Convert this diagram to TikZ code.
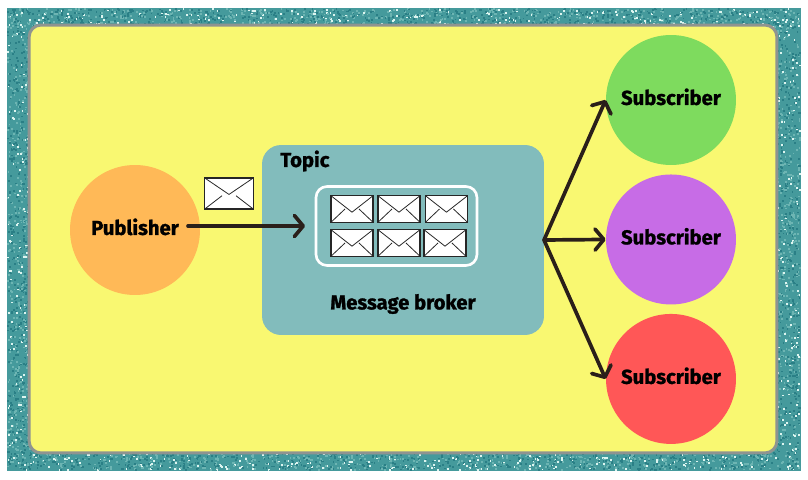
\documentclass[tikz,border=0pt]{standalone}
\usepackage{fontspec}
\setmainfont{Fira Sans}[BoldFont={Fira Sans Bold}, BoldFeatures={FakeBold=1.2}]
\usetikzlibrary{arrows.meta}
\definecolor{glitterbase}{HTML}{459A9C}
\definecolor{glitterdark}{HTML}{2A7F86}
\definecolor{glittermid}{HTML}{6DB5B3}
\definecolor{glitterlight}{HTML}{DDF5F0}
\definecolor{panelyellow}{HTML}{F9F871}
\definecolor{panelgrey}{HTML}{8F9490}
\definecolor{topicteal}{HTML}{82BCBC}
\definecolor{puborange}{HTML}{FFB957}
\definecolor{subgreen}{HTML}{7EDB5E}
\definecolor{subpurple}{HTML}{C76CE6}
\definecolor{subred}{HTML}{FF5757}
\definecolor{arrowdark}{HTML}{2A1F1A}
\begin{document}
\begin{tikzpicture}[x=0.02cm, y=-0.02cm, node distance=2.79cm,
  main/.style = {circle, minimum size=2.6cm, inner sep=0pt, text height=8.5pt, text depth=2.9pt, font=\bfseries\fontsize{11.5pt}{13pt}\selectfont},
  word/.style = {inner sep=0pt, font=\bfseries\fontsize{11.5pt}{13pt}\selectfont},
  mail/.style = {draw=black!85, fill=white, line width=0.7pt, inner sep=0pt, minimum width=0.84cm, minimum height=0.53cm,
    path picture={
      \draw[black!85, line width=0.45pt] (path picture bounding box.north west) -- ([yshift=-0.62*0.53cm]path picture bounding box.north) -- (path picture bounding box.north east);
      \draw[black!85, line width=0.45pt] (path picture bounding box.south west) -- ([xshift=-0.14cm,yshift=0.5*0.53cm]path picture bounding box.south);
      \draw[black!85, line width=0.45pt] (path picture bounding box.south east) -- ([xshift=0.14cm,yshift=0.5*0.53cm]path picture bounding box.south);
    }},
  flow/.style = {draw=arrowdark, line width=2.1pt, line cap=round, -{Straight Barb[length=5pt, width=12pt, line width=2.1pt, round]}}]
  \useasboundingbox (0,0) rectangle (808,480);
  % glitter frame
  \fill[glitterbase] (7,8) rectangle (801,471);
  \pgfmathsetseed{42}
  \foreach \xa/\xb/\ya/\yb/\n in {7/801/8/30/1700, 7/801/448/471/1700, 7/34/30/448/900, 772/801/30/448/900} {
    \foreach \i in {1,...,\n} {
      \pgfmathsetmacro{\px}{\xa+rnd*(\xb-\xa-2)}
      \pgfmathsetmacro{\py}{\ya+rnd*(\yb-\ya-2)}
      \pgfmathsetmacro{\pick}{rnd}
      \ifdim\pick pt<0.16pt
        \fill[glitterlight] (\px,\py) rectangle ++(1.8,1.8);
      \else
        \ifdim\pick pt<0.55pt
          \fill[glittermid] (\px,\py) rectangle ++(1.8,1.8);
        \else
          \fill[glitterdark] (\px,\py) rectangle ++(1.8,1.8);
        \fi
      \fi
    }
  }
  % panel
  \node[draw=panelgrey, fill=panelyellow, line width=1.7pt, rounded corners=0.24cm, minimum width=14.96cm, minimum height=8.56cm, inner sep=0pt] (panel) at (403,239) {};
  % topic
  \node[fill=topicteal, rounded corners=0.38cm, minimum width=5.64cm, minimum height=3.8cm, inner sep=0pt] (topic) at (403,240) {};
  \node[draw=white, line width=1.5pt, rounded corners=0.22cm, minimum width=3.22cm, minimum height=1.58cm, inner sep=0pt] (queue) at (396.5,226) {};
  \node[word, anchor=west] (topiclabel) at (280,161) {Topic};
  \node[word] (broker) at (403,304) {Message broker};
  % messages
  \node[mail] (m1) at (352,209) {};
  \node[mail, right of=m1, node distance=0.94cm] (m2) {};
  \node[mail, right of=m2, node distance=0.95cm] (m3) {};
  \node[mail, below of=m1, node distance=0.68cm] (m4) {};
  \node[mail, right of=m4, node distance=0.94cm] (m5) {};
  \node[mail, right of=m5, node distance=0.92cm] (m6) {};
  \node[mail, minimum width=0.97cm, minimum height=0.62cm] (sent) at (229,193.5) {};
  % publisher and subscribers
  \node[main, fill=puborange] (pub) at (135,230) {Publisher};
  \node[main, fill=subgreen] (sub1) at (671,100) {Subscriber};
  \node[main, fill=subpurple, below of=sub1] (sub2) {Subscriber};
  \node[main, fill=subred, below of=sub2] (sub3) {Subscriber};
  \coordinate (pubout) at (188,226);
  \coordinate (topicin) at (305,226);
  \coordinate (fan) at (544,240);
  \draw[flow] (pubout) -- (topicin);
  \draw[flow] (fan) -- (sub1.west);
  \draw[flow] (fan) -- (sub2.west);
  \draw[flow] (fan) -- (sub3.west);
\end{tikzpicture}
\end{document}
